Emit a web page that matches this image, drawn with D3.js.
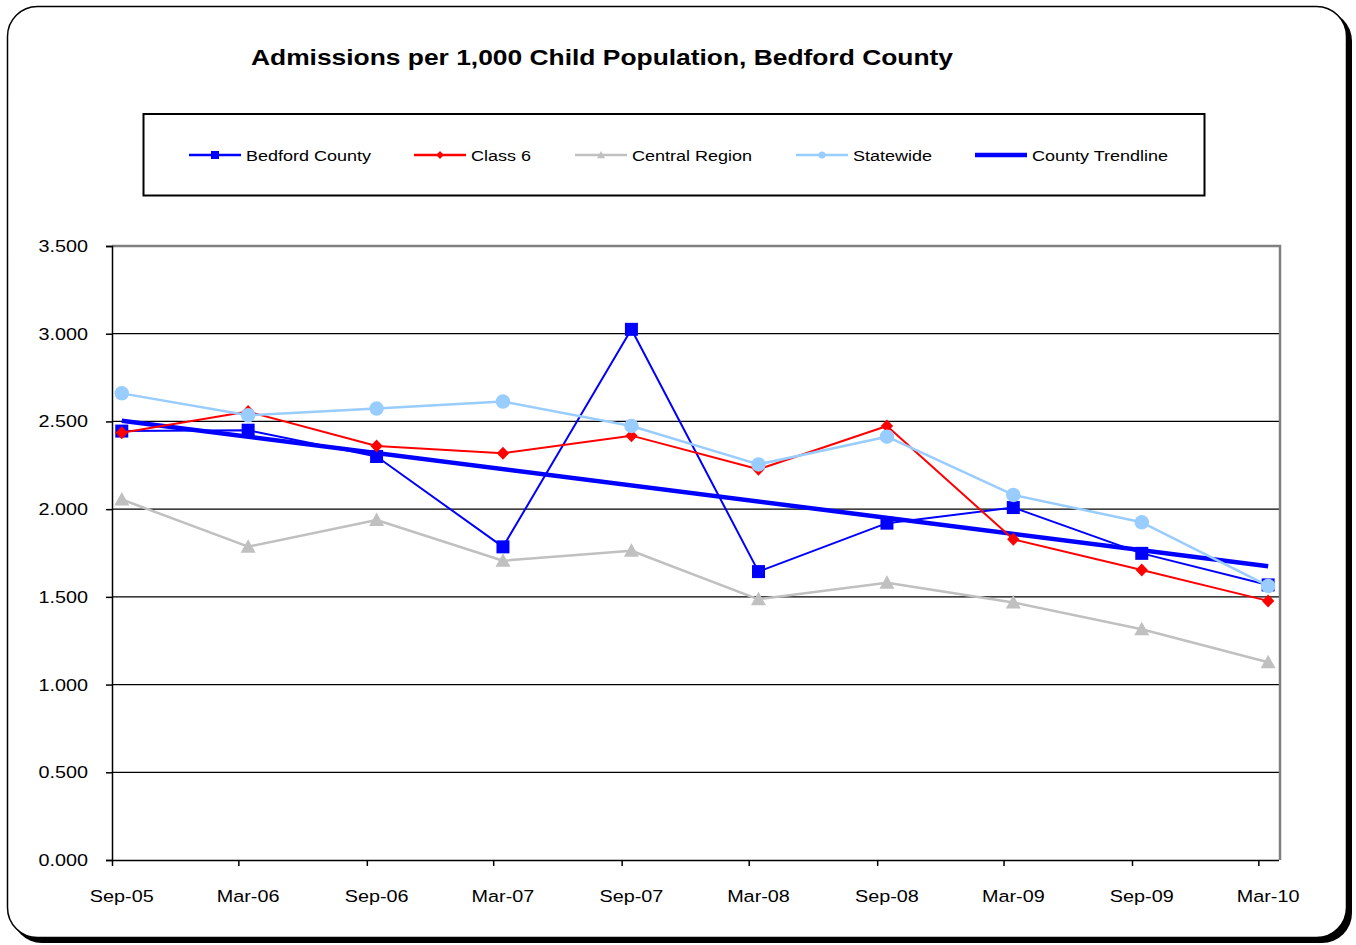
<!DOCTYPE html>
<html>
<head>
<meta charset="utf-8">
<script src="https://cdn.jsdelivr.net/npm/d3@7"></script>
<style>
  html, body { margin: 0; padding: 0; background: #ffffff; }
  svg { display: block; }
  text { font-family: "Liberation Sans", Arial, sans-serif; fill: #000; }
</style>
</head>
<body>
<svg id="chart" width="1356" height="945"></svg>
<script>
// Half-yearly reporting periods
const categories = ["Sep-05", "Mar-06", "Sep-06", "Mar-07", "Sep-07", "Mar-08", "Sep-08", "Mar-09", "Sep-09", "Mar-10"];

// Admissions per 1,000 child population
const bedfordCounty = [2.445, 2.450, 2.300, 1.785, 3.025, 1.644, 1.920, 2.009, 1.748, 1.568];
const class6        = [2.436, 2.556, 2.360, 2.319, 2.419, 2.227, 2.474, 1.828, 1.653, 1.477];
const centralRegion = [2.055, 1.786, 1.938, 1.706, 1.763, 1.486, 1.581, 1.468, 1.315, 1.127];
const statewide     = [2.660, 2.535, 2.573, 2.613, 2.474, 2.255, 2.413, 2.081, 1.925, 1.562];

const yTickValues = [0, 0.5, 1.0, 1.5, 2.0, 2.5, 3.0, 3.5];

const svg = d3.select("#chart");
const plot = { left: 112, right: 1280, top: 246, bottom: 860 };
const STRETCH = 1.2; // wide glyph rendering of the chart's text

// ---- outer rounded frame with a drop edge on the right and bottom ----
svg.append("rect")
  .attr("x", 12).attr("y", 11).attr("width", 1340).attr("height", 932)
  .attr("rx", 30).attr("ry", 30).attr("fill", "#000");
svg.append("rect")
  .attr("x", 7.5).attr("y", 6.5).attr("width", 1339).attr("height", 931)
  .attr("rx", 30).attr("ry", 30)
  .attr("fill", "#ffffff").attr("stroke", "#000").attr("stroke-width", 1.5);

// helper: text drawn with a horizontal stretch around its anchor point
function label(parent, x, y, str, opts = {}) {
  const g = parent.append("g").attr("transform", `translate(${x},${y}) scale(${STRETCH},1)`);
  return g.append("text")
    .attr("x", 0).attr("y", 0)
    .attr("text-anchor", opts.anchor || "start")
    .style("font-size", (opts.size || 16) + "px")
    .style("font-weight", opts.weight || "normal")
    .text(str);
}

// ---- title ----
label(svg, 602, 65, "Admissions per 1,000 Child Population, Bedford County",
  { anchor: "middle", size: 22, weight: "bold" });

// ---- scales ----
const parseCat = d3.timeParse("%b-%y");
const catDates = categories.map(parseCat);
const pointDate = d => d3.timeDay.offset(d, 14); // values sit mid-month
const x = d3.scaleTime()
  .domain([catDates[0], d3.timeMonth.offset(catDates[catDates.length - 1], 1)])
  .range([plot.left, plot.right]);
const y = d3.scaleLinear().domain([0, 3.5]).range([plot.bottom, plot.top]);

// ---- gridlines ----
svg.append("g").selectAll("line")
  .data(yTickValues.filter(v => v > 0 && v < 3.5))
  .join("line")
  .attr("x1", plot.left).attr("x2", plot.right)
  .attr("y1", d => y(d)).attr("y2", d => y(d))
  .attr("stroke", "#000").attr("stroke-width", 1.3);

// plot area border (top and right, grey)
svg.append("path")
  .attr("d", `M${plot.left},${y(3.5)} H${plot.right} V${plot.bottom}`)
  .attr("fill", "none").attr("stroke", "#808080").attr("stroke-width", 2.5);

// ---- axes ----
const yAxis = d3.axisLeft(y).tickValues(yTickValues).tickSize(6).tickFormat("");
const yAxisG = svg.append("g").attr("transform", `translate(${plot.left},0)`).call(yAxis);
yAxisG.select(".domain").attr("stroke", "#000").attr("stroke-width", 1.5);
yAxisG.selectAll(".tick line").attr("stroke", "#000").attr("stroke-width", 1.5);
const fmt = d3.format(".3f");
yTickValues.forEach(v => label(svg, 88, y(v) + 6, fmt(v), { anchor: "end", size: 16.5 }));

const xAxis = d3.axisBottom(x).tickValues(catDates).tickSize(6).tickFormat("");
const xAxisG = svg.append("g").attr("transform", `translate(0,${plot.bottom})`).call(xAxis);
xAxisG.select(".domain").attr("d", `M${plot.left},0.5H${plot.right - 1}`).attr("stroke", "#000").attr("stroke-width", 1.5);
xAxisG.selectAll(".tick line").attr("stroke", "#000").attr("stroke-width", 1.5);
categories.forEach((c, i) => label(svg, x(pointDate(catDates[i])), 902, c, { anchor: "middle", size: 16.5 }));

// ---- series ----
const series = [
  { name: "Bedford County", values: bedfordCounty, color: "#0000FF", width: 2,   marker: "square",   size: 13 },
  { name: "Class 6",        values: class6,        color: "#FF0000", width: 2,   marker: "diamond",  size: 13 },
  { name: "Central Region", values: centralRegion, color: "#C0C0C0", width: 2.5, marker: "triangle", size: 15 },
  { name: "Statewide",      values: statewide,     color: "#99CCFF", width: 2.5, marker: "circle",   size: 14.5 }
];

// County trendline: least-squares fit of Bedford County against the period dates
const dayNum = d => d.getTime() / 86400000;
const xs = catDates.map(d => dayNum(pointDate(d)));
const mx = d3.mean(xs), my = d3.mean(bedfordCounty);
const slope = d3.sum(xs, (v, i) => (v - mx) * (bedfordCounty[i] - my)) / d3.sum(xs, v => (v - mx) * (v - mx));
const intercept = my - slope * mx;
const trendPts = [catDates[0], catDates[catDates.length - 1]].map(d => {
  const pd = pointDate(d);
  return [x(pd), y(intercept + slope * dayNum(pd))];
});

function markerPath(type, s) {
  const h = s / 2;
  switch (type) {
    case "square":   return `M${-h},${-h}H${h}V${h}H${-h}Z`;
    case "diamond":  return `M0,${-h}L${h * 0.95},0L0,${h}L${-h * 0.95},0Z`;
    case "triangle": return `M0,${-h}L${h},${h * 0.8}L${-h},${h * 0.8}Z`;
    case "circle":   return d3.symbol(d3.symbolCircle, Math.PI * h * h)();
  }
}

const lineGen = d3.line().x(d => d[0]).y(d => d[1]);

// trendline drawn beneath the series
svg.append("path")
  .attr("d", lineGen(trendPts))
  .attr("fill", "none").attr("stroke", "#0000FF").attr("stroke-width", 4.5);

series.forEach(s => {
  const pts = s.values.map((v, i) => [x(pointDate(catDates[i])), y(v)]);
  const g = svg.append("g");
  g.append("path")
    .attr("d", lineGen(pts))
    .attr("fill", "none").attr("stroke", s.color).attr("stroke-width", s.width)
    .attr("stroke-linejoin", "round");
  g.selectAll("path.m").data(pts).join("path")
    .attr("class", "m")
    .attr("transform", d => `translate(${d[0]},${d[1]})`)
    .attr("d", markerPath(s.marker, s.size))
    .attr("fill", s.color);
});

// ---- legend ----
const legend = svg.append("g");
legend.append("rect")
  .attr("x", 143.5).attr("y", 114).attr("width", 1061).attr("height", 81.5)
  .attr("fill", "#fff").attr("stroke", "#000").attr("stroke-width", 2);

const legendItems = [
  { name: "Bedford County",   color: "#0000FF", width: 2.5, marker: "square",   size: 8, x: 189 },
  { name: "Class 6",          color: "#FF0000", width: 2.5, marker: "diamond",  size: 8, x: 414 },
  { name: "Central Region",   color: "#C0C0C0", width: 2.5, marker: "triangle", size: 8, x: 575 },
  { name: "Statewide",        color: "#99CCFF", width: 2.5, marker: "circle",   size: 7, x: 796 },
  { name: "County Trendline", color: "#0000FF", width: 4.5, marker: null,       size: 0, x: 975 }
];
const ly = 155;
legendItems.forEach(it => {
  legend.append("line")
    .attr("x1", it.x).attr("x2", it.x + 52).attr("y1", ly).attr("y2", ly)
    .attr("stroke", it.color).attr("stroke-width", it.width);
  if (it.marker) {
    legend.append("path")
      .attr("transform", `translate(${it.x + 26},${ly})`)
      .attr("d", markerPath(it.marker, it.size))
      .attr("fill", it.color);
  }
  label(legend, it.x + 57, ly + 5.5, it.name, { size: 15 });
});
</script>
</body>
</html>
